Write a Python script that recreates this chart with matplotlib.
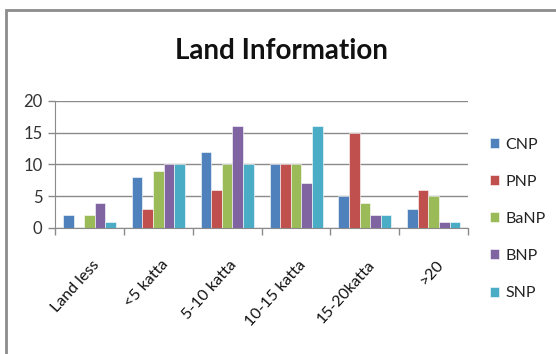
import numpy as np
import matplotlib.pyplot as plt
from matplotlib.patches import Rectangle

categories = ['Land less', '<5 katta', '5-10 katta', '10-15 katta', '15-20katta', '>20']
series_names = ['CNP', 'PNP', 'BaNP', 'BNP', 'SNP']
cnp = [2, 8, 12, 10, 5, 3]
pnp = [0, 3, 6, 10, 15, 6]
banp = [2, 9, 10, 10, 4, 5]
bnp = [4, 10, 16, 7, 2, 1]
snp = [1, 10, 10, 16, 2, 1]
colors = ['#4F81BD', '#C0504D', '#9BBB59', '#8064A2', '#4BACC6']

plt.rcParams['font.family'] = ['Lato', 'DejaVu Sans']

fig = plt.figure(figsize=(5.56, 3.54), dpi=100)
ax = fig.add_axes([0.099, 0.356, 0.743, 0.359])

# outer chart frame
fig.patches.append(Rectangle((6 / 556, -0.2), 1.5, 0.2 + 1 - 10 / 354,
                             transform=fig.transFigure, fill=False,
                             edgecolor='#8c8c8c', linewidth=2))

x = np.arange(len(categories))
width = 1 / 6.5
for i, (vals, name) in enumerate(zip([cnp, pnp, banp, bnp, snp], series_names)):
    offs = (i - 2) * width
    ax.bar(x + offs, vals, width, color=colors[i], label=name,
           edgecolor='white', linewidth=0.4)

ax.set_xlim(-0.5, len(categories) - 0.5)
ax.set_ylim(0, 20)
ax.set_yticks([0, 5, 10, 15, 20])
ax.yaxis.grid(True, color='#8a8a8a', linewidth=1)
ax.set_axisbelow(True)

# category boundaries as tick marks
ax.set_xticks(np.arange(-0.5, len(categories) + 0.5, 1))
ax.set_xticklabels([])
ax.tick_params(axis='x', length=5, color='#8a8a8a', width=1)
ax.tick_params(axis='y', length=5, color='#8a8a8a', width=1, labelsize=12,
               labelcolor='#333333', pad=4)
for i, cat in enumerate(categories):
    ax.text(i + 0.03, -4.7, cat, rotation=48, ha='right', va='top',
            fontsize=11.5, color='#111111', rotation_mode='anchor')

for s in ['top', 'right']:
    ax.spines[s].set_visible(False)
ax.spines['left'].set_color('#8a8a8a')
ax.spines['bottom'].set_color('#8a8a8a')

fig.text(0.507, 0.855, 'Land Information', ha='center', va='center',
         fontsize=20, fontweight='bold', color='#111111')

leg = fig.legend(loc='upper left', bbox_to_anchor=(0.855, 0.652),
                 frameon=False, fontsize=11.5, handlelength=0.6,
                 handleheight=0.6, handletextpad=0.4, labelspacing=1.45)
for t in leg.get_texts():
    t.set_color('#222222')

fig.savefig('out.png', dpi=100)
